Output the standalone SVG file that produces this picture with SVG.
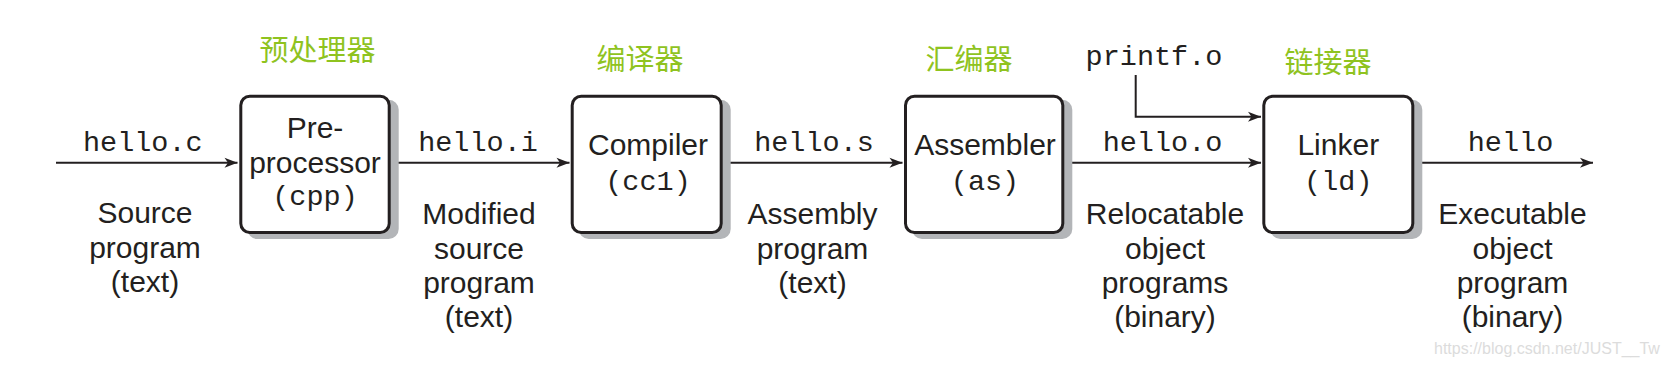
<svg xmlns="http://www.w3.org/2000/svg" width="1669" height="367" viewBox="0 0 1669 367">
<style>
.sans{font-family:"Liberation Sans",Arial,sans-serif;font-size:30px;fill:#231f20;text-anchor:middle}
.mono{font-family:"Liberation Mono","Courier New",monospace;font-size:28.5px;fill:#231f20;text-anchor:middle}
.cjk{font-family:"Noto Sans CJK SC",sans-serif;font-size:29px;fill:#8fc31f;text-anchor:middle}
.box{fill:#ffffff;stroke:#231f20;stroke-width:3}
.shadow{fill:#b3b5b8}
.edge{fill:none;stroke:#231f20;stroke-width:2;marker-end:url(#arr)}
.wm{font-family:"Liberation Sans",Arial,sans-serif;font-size:16px;fill:#dcdcdc}
</style>
<defs>
<marker id="arr" viewBox="-14 -6 15 12" refX="0" refY="0" markerWidth="15" markerHeight="12" markerUnits="userSpaceOnUse" orient="auto">
<path d="M0,0 L-13,-5 L-9.5,0 L-13,5 Z" fill="#231f20"/>
</marker>
</defs>
<rect width="1669" height="367" fill="#ffffff"/>

<g id="connectors">
<line class="edge" x1="56" y1="162.7" x2="237.5" y2="162.7"/>
<line class="edge" x1="390" y1="162.7" x2="569.5" y2="162.7"/>
<line class="edge" x1="722" y1="162.7" x2="902.5" y2="162.7"/>
<line class="edge" x1="1064" y1="162.7" x2="1261" y2="162.7"/>
<line class="edge" x1="1414" y1="162.7" x2="1593" y2="162.7"/>
<polyline class="edge" points="1135.7,75 1135.7,116.7 1261,116.7"/>
</g>

<g id="preprocessor">
<rect class="shadow" x="247.3" y="99.7" width="151.4" height="139.3" rx="10"/>
<rect class="box" x="240.8" y="96.2" width="148.4" height="136.3" rx="9"/>
<text class="sans" x="315" y="138.3">Pre-</text>
<text class="sans" x="315" y="172.7">processor</text>
<text class="mono" x="315" y="205">(cpp)</text>
<text class="cjk" x="317.5" y="61">预处理器</text>
</g>

<g id="compiler">
<rect class="shadow" x="578.7" y="99.7" width="152" height="139.3" rx="10"/>
<rect class="box" x="572.2" y="96.2" width="149" height="136.3" rx="9"/>
<text class="sans" x="648" y="155">Compiler</text>
<text class="mono" x="648" y="190">(cc1)</text>
<text class="cjk" x="640" y="69.5">编译器</text>
</g>

<g id="assembler">
<rect class="shadow" x="912" y="99.7" width="160.3" height="139.3" rx="10"/>
<rect class="box" x="905.5" y="96.2" width="157.3" height="136.3" rx="9"/>
<text class="sans" x="985" y="155">Assembler</text>
<text class="mono" x="985" y="190">(as)</text>
<text class="cjk" x="969" y="69.5">汇编器</text>
</g>

<g id="linker">
<rect class="shadow" x="1270.3" y="99.7" width="152" height="139.3" rx="10"/>
<rect class="box" x="1263.8" y="96.2" width="149" height="136.3" rx="9"/>
<text class="sans" x="1338.3" y="155">Linker</text>
<text class="mono" x="1338.3" y="190">(ld)</text>
<text class="cjk" x="1328" y="73">链接器</text>
</g>

<g id="labels">
<text class="mono" x="142.8" y="151">hello.c</text>
<text class="mono" x="478" y="151">hello.i</text>
<text class="mono" x="814" y="151">hello.s</text>
<text class="mono" x="1162.5" y="151">hello.o</text>
<text class="mono" x="1510.5" y="151">hello</text>
<text class="mono" x="1154" y="65">printf.o</text>

<text class="sans" x="145" y="223">Source</text>
<text class="sans" x="145" y="257.5">program</text>
<text class="sans" x="145" y="291.5">(text)</text>

<text class="sans" x="479" y="224">Modified</text>
<text class="sans" x="479" y="258.5">source</text>
<text class="sans" x="479" y="292.5">program</text>
<text class="sans" x="479" y="326.5">(text)</text>

<text class="sans" x="812.5" y="224">Assembly</text>
<text class="sans" x="812.5" y="258.5">program</text>
<text class="sans" x="812.5" y="292.5">(text)</text>

<text class="sans" x="1165" y="224">Relocatable</text>
<text class="sans" x="1165" y="258.5">object</text>
<text class="sans" x="1165" y="292.5">programs</text>
<text class="sans" x="1165" y="326.5">(binary)</text>

<text class="sans" x="1512.5" y="224">Executable</text>
<text class="sans" x="1512.5" y="258.5">object</text>
<text class="sans" x="1512.5" y="292.5">program</text>
<text class="sans" x="1512.5" y="326.5">(binary)</text>

<text class="wm" x="1434" y="354">https://blog.csdn.net/JUST__Tw</text>
</g>
</svg>
